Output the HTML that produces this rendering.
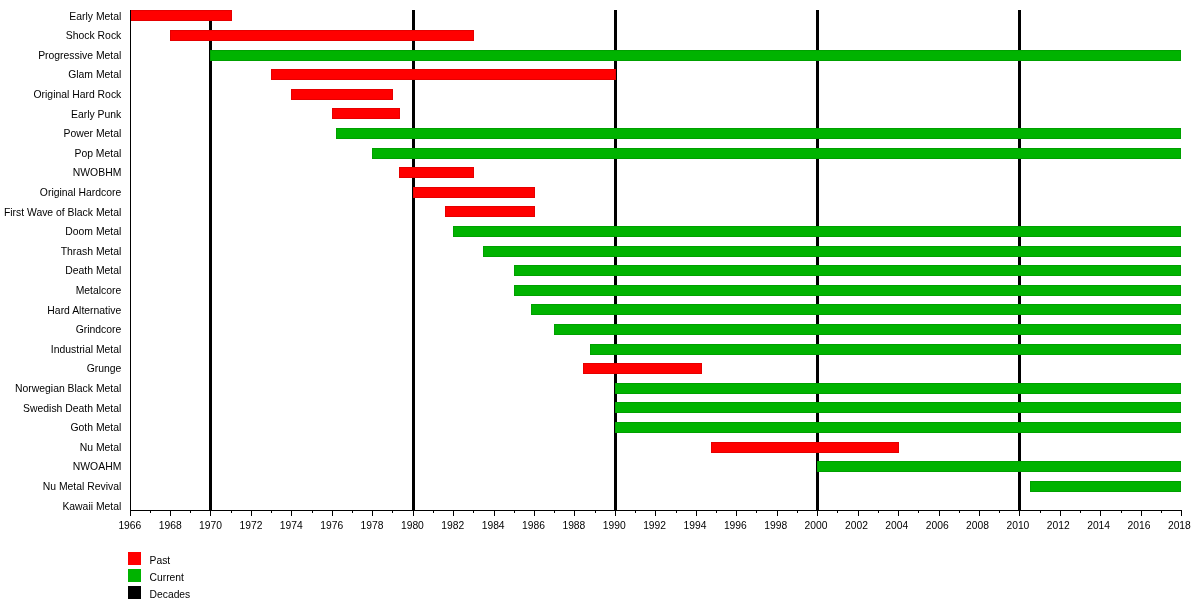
<!DOCTYPE html><html><head><meta charset="utf-8"><title>Heavy metal genres timeline</title><style>html,body{margin:0;padding:0;background:#fff;}svg{display:block;}svg text{font-family:"Liberation Sans",Arial,Helvetica,sans-serif;fill:#000;}.t{filter:grayscale(1);}</style></head><body>
<svg width="1200" height="610" viewBox="0 0 1200 610" shape-rendering="crispEdges">
<rect width="1200" height="610" fill="#fff"/>
<rect x="209" y="10" width="3" height="500" fill="#000"/>
<rect x="412" y="10" width="3" height="500" fill="#000"/>
<rect x="614" y="10" width="3" height="500" fill="#000"/>
<rect x="816" y="10" width="3" height="500" fill="#000"/>
<rect x="1018" y="10" width="3" height="500" fill="#000"/>
<rect x="130" y="10" width="102" height="11" fill="#ff0000"/>
<rect x="130.5" y="10.5" width="101" height="10" fill="none" stroke="#000" stroke-opacity="0.1" stroke-width="1"/>
<rect x="170" y="30" width="304" height="11" fill="#ff0000"/>
<rect x="170.5" y="30.5" width="303" height="10" fill="none" stroke="#000" stroke-opacity="0.1" stroke-width="1"/>
<rect x="210" y="50" width="971" height="11" fill="#00b300"/>
<rect x="210.5" y="50.5" width="970" height="10" fill="none" stroke="#000" stroke-opacity="0.1" stroke-width="1"/>
<rect x="271" y="69" width="345" height="11" fill="#ff0000"/>
<rect x="271.5" y="69.5" width="344" height="10" fill="none" stroke="#000" stroke-opacity="0.1" stroke-width="1"/>
<rect x="291" y="89" width="102" height="11" fill="#ff0000"/>
<rect x="291.5" y="89.5" width="101" height="10" fill="none" stroke="#000" stroke-opacity="0.1" stroke-width="1"/>
<rect x="332" y="108" width="68" height="11" fill="#ff0000"/>
<rect x="332.5" y="108.5" width="67" height="10" fill="none" stroke="#000" stroke-opacity="0.1" stroke-width="1"/>
<rect x="336" y="128" width="845" height="11" fill="#00b300"/>
<rect x="336.5" y="128.5" width="844" height="10" fill="none" stroke="#000" stroke-opacity="0.1" stroke-width="1"/>
<rect x="372" y="148" width="809" height="11" fill="#00b300"/>
<rect x="372.5" y="148.5" width="808" height="10" fill="none" stroke="#000" stroke-opacity="0.1" stroke-width="1"/>
<rect x="399" y="167" width="75" height="11" fill="#ff0000"/>
<rect x="399.5" y="167.5" width="74" height="10" fill="none" stroke="#000" stroke-opacity="0.1" stroke-width="1"/>
<rect x="413" y="187" width="122" height="11" fill="#ff0000"/>
<rect x="413.5" y="187.5" width="121" height="10" fill="none" stroke="#000" stroke-opacity="0.1" stroke-width="1"/>
<rect x="445" y="206" width="90" height="11" fill="#ff0000"/>
<rect x="445.5" y="206.5" width="89" height="10" fill="none" stroke="#000" stroke-opacity="0.1" stroke-width="1"/>
<rect x="453" y="226" width="728" height="11" fill="#00b300"/>
<rect x="453.5" y="226.5" width="727" height="10" fill="none" stroke="#000" stroke-opacity="0.1" stroke-width="1"/>
<rect x="483" y="246" width="698" height="11" fill="#00b300"/>
<rect x="483.5" y="246.5" width="697" height="10" fill="none" stroke="#000" stroke-opacity="0.1" stroke-width="1"/>
<rect x="514" y="265" width="667" height="11" fill="#00b300"/>
<rect x="514.5" y="265.5" width="666" height="10" fill="none" stroke="#000" stroke-opacity="0.1" stroke-width="1"/>
<rect x="514" y="285" width="667" height="11" fill="#00b300"/>
<rect x="514.5" y="285.5" width="666" height="10" fill="none" stroke="#000" stroke-opacity="0.1" stroke-width="1"/>
<rect x="531" y="304" width="650" height="11" fill="#00b300"/>
<rect x="531.5" y="304.5" width="649" height="10" fill="none" stroke="#000" stroke-opacity="0.1" stroke-width="1"/>
<rect x="554" y="324" width="627" height="11" fill="#00b300"/>
<rect x="554.5" y="324.5" width="626" height="10" fill="none" stroke="#000" stroke-opacity="0.1" stroke-width="1"/>
<rect x="590" y="344" width="591" height="11" fill="#00b300"/>
<rect x="590.5" y="344.5" width="590" height="10" fill="none" stroke="#000" stroke-opacity="0.1" stroke-width="1"/>
<rect x="583" y="363" width="119" height="11" fill="#ff0000"/>
<rect x="583.5" y="363.5" width="118" height="10" fill="none" stroke="#000" stroke-opacity="0.1" stroke-width="1"/>
<rect x="615" y="383" width="566" height="11" fill="#00b300"/>
<rect x="615.5" y="383.5" width="565" height="10" fill="none" stroke="#000" stroke-opacity="0.1" stroke-width="1"/>
<rect x="615" y="402" width="566" height="11" fill="#00b300"/>
<rect x="615.5" y="402.5" width="565" height="10" fill="none" stroke="#000" stroke-opacity="0.1" stroke-width="1"/>
<rect x="615" y="422" width="566" height="11" fill="#00b300"/>
<rect x="615.5" y="422.5" width="565" height="10" fill="none" stroke="#000" stroke-opacity="0.1" stroke-width="1"/>
<rect x="711" y="442" width="188" height="11" fill="#ff0000"/>
<rect x="711.5" y="442.5" width="187" height="10" fill="none" stroke="#000" stroke-opacity="0.1" stroke-width="1"/>
<rect x="817" y="461" width="364" height="11" fill="#00b300"/>
<rect x="817.5" y="461.5" width="363" height="10" fill="none" stroke="#000" stroke-opacity="0.1" stroke-width="1"/>
<rect x="1030" y="481" width="151" height="11" fill="#00b300"/>
<rect x="1030.5" y="481.5" width="150" height="10" fill="none" stroke="#000" stroke-opacity="0.1" stroke-width="1"/>
<rect x="130" y="10" width="1" height="501" fill="#000"/>
<rect x="130" y="510" width="1052" height="1" fill="#000"/>
<rect x="130" y="510" width="1" height="6" fill="#000"/>
<rect x="150" y="510" width="1" height="3" fill="#000"/>
<rect x="170" y="510" width="1" height="6" fill="#000"/>
<rect x="190" y="510" width="1" height="3" fill="#000"/>
<rect x="210" y="510" width="1" height="6" fill="#000"/>
<rect x="231" y="510" width="1" height="3" fill="#000"/>
<rect x="251" y="510" width="1" height="6" fill="#000"/>
<rect x="271" y="510" width="1" height="3" fill="#000"/>
<rect x="291" y="510" width="1" height="6" fill="#000"/>
<rect x="312" y="510" width="1" height="3" fill="#000"/>
<rect x="332" y="510" width="1" height="6" fill="#000"/>
<rect x="352" y="510" width="1" height="3" fill="#000"/>
<rect x="372" y="510" width="1" height="6" fill="#000"/>
<rect x="392" y="510" width="1" height="3" fill="#000"/>
<rect x="413" y="510" width="1" height="6" fill="#000"/>
<rect x="433" y="510" width="1" height="3" fill="#000"/>
<rect x="453" y="510" width="1" height="6" fill="#000"/>
<rect x="473" y="510" width="1" height="3" fill="#000"/>
<rect x="494" y="510" width="1" height="6" fill="#000"/>
<rect x="514" y="510" width="1" height="3" fill="#000"/>
<rect x="534" y="510" width="1" height="6" fill="#000"/>
<rect x="554" y="510" width="1" height="3" fill="#000"/>
<rect x="574" y="510" width="1" height="6" fill="#000"/>
<rect x="595" y="510" width="1" height="3" fill="#000"/>
<rect x="615" y="510" width="1" height="6" fill="#000"/>
<rect x="635" y="510" width="1" height="3" fill="#000"/>
<rect x="655" y="510" width="1" height="6" fill="#000"/>
<rect x="676" y="510" width="1" height="3" fill="#000"/>
<rect x="696" y="510" width="1" height="6" fill="#000"/>
<rect x="716" y="510" width="1" height="3" fill="#000"/>
<rect x="736" y="510" width="1" height="6" fill="#000"/>
<rect x="756" y="510" width="1" height="3" fill="#000"/>
<rect x="777" y="510" width="1" height="6" fill="#000"/>
<rect x="797" y="510" width="1" height="3" fill="#000"/>
<rect x="817" y="510" width="1" height="6" fill="#000"/>
<rect x="837" y="510" width="1" height="3" fill="#000"/>
<rect x="858" y="510" width="1" height="6" fill="#000"/>
<rect x="878" y="510" width="1" height="3" fill="#000"/>
<rect x="898" y="510" width="1" height="6" fill="#000"/>
<rect x="918" y="510" width="1" height="3" fill="#000"/>
<rect x="939" y="510" width="1" height="6" fill="#000"/>
<rect x="959" y="510" width="1" height="3" fill="#000"/>
<rect x="979" y="510" width="1" height="6" fill="#000"/>
<rect x="999" y="510" width="1" height="3" fill="#000"/>
<rect x="1019" y="510" width="1" height="6" fill="#000"/>
<rect x="1040" y="510" width="1" height="3" fill="#000"/>
<rect x="1060" y="510" width="1" height="6" fill="#000"/>
<rect x="1080" y="510" width="1" height="3" fill="#000"/>
<rect x="1100" y="510" width="1" height="6" fill="#000"/>
<rect x="1121" y="510" width="1" height="3" fill="#000"/>
<rect x="1141" y="510" width="1" height="6" fill="#000"/>
<rect x="1161" y="510" width="1" height="3" fill="#000"/>
<rect x="1181" y="510" width="1" height="6" fill="#000"/>
<g class="t">
<text x="129.85" y="529" font-size="10.3" text-anchor="middle">1966</text>
<text x="170.22" y="529" font-size="10.3" text-anchor="middle">1968</text>
<text x="210.58" y="529" font-size="10.3" text-anchor="middle">1970</text>
<text x="250.95" y="529" font-size="10.3" text-anchor="middle">1972</text>
<text x="291.31" y="529" font-size="10.3" text-anchor="middle">1974</text>
<text x="331.68" y="529" font-size="10.3" text-anchor="middle">1976</text>
<text x="372.05" y="529" font-size="10.3" text-anchor="middle">1978</text>
<text x="412.41" y="529" font-size="10.3" text-anchor="middle">1980</text>
<text x="452.78" y="529" font-size="10.3" text-anchor="middle">1982</text>
<text x="493.14" y="529" font-size="10.3" text-anchor="middle">1984</text>
<text x="533.51" y="529" font-size="10.3" text-anchor="middle">1986</text>
<text x="573.88" y="529" font-size="10.3" text-anchor="middle">1988</text>
<text x="614.24" y="529" font-size="10.3" text-anchor="middle">1990</text>
<text x="654.61" y="529" font-size="10.3" text-anchor="middle">1992</text>
<text x="694.97" y="529" font-size="10.3" text-anchor="middle">1994</text>
<text x="735.34" y="529" font-size="10.3" text-anchor="middle">1996</text>
<text x="775.71" y="529" font-size="10.3" text-anchor="middle">1998</text>
<text x="816.07" y="529" font-size="10.3" text-anchor="middle">2000</text>
<text x="856.44" y="529" font-size="10.3" text-anchor="middle">2002</text>
<text x="896.80" y="529" font-size="10.3" text-anchor="middle">2004</text>
<text x="937.17" y="529" font-size="10.3" text-anchor="middle">2006</text>
<text x="977.54" y="529" font-size="10.3" text-anchor="middle">2008</text>
<text x="1017.90" y="529" font-size="10.3" text-anchor="middle">2010</text>
<text x="1058.27" y="529" font-size="10.3" text-anchor="middle">2012</text>
<text x="1098.63" y="529" font-size="10.3" text-anchor="middle">2014</text>
<text x="1139.00" y="529" font-size="10.3" text-anchor="middle">2016</text>
<text x="1179.37" y="529" font-size="10.3" text-anchor="middle">2018</text>
<text x="121.3" y="20.0" font-size="10.4" text-anchor="end">Early Metal</text>
<text x="121.3" y="39.0" font-size="10.4" text-anchor="end">Shock Rock</text>
<text x="121.3" y="59.0" font-size="10.4" text-anchor="end">Progressive Metal</text>
<text x="121.3" y="78.0" font-size="10.4" text-anchor="end">Glam Metal</text>
<text x="121.3" y="98.0" font-size="10.4" text-anchor="end">Original Hard Rock</text>
<text x="121.3" y="118.0" font-size="10.4" text-anchor="end">Early Punk</text>
<text x="121.3" y="137.0" font-size="10.4" text-anchor="end">Power Metal</text>
<text x="121.3" y="157.0" font-size="10.4" text-anchor="end">Pop Metal</text>
<text x="121.3" y="176.0" font-size="10.4" text-anchor="end">NWOBHM</text>
<text x="121.3" y="196.0" font-size="10.4" text-anchor="end">Original Hardcore</text>
<text x="121.3" y="216.0" font-size="10.4" text-anchor="end">First Wave of Black Metal</text>
<text x="121.3" y="235.0" font-size="10.4" text-anchor="end">Doom Metal</text>
<text x="121.3" y="255.0" font-size="10.4" text-anchor="end">Thrash Metal</text>
<text x="121.3" y="274.0" font-size="10.4" text-anchor="end">Death Metal</text>
<text x="121.3" y="294.0" font-size="10.4" text-anchor="end">Metalcore</text>
<text x="121.3" y="314.0" font-size="10.4" text-anchor="end">Hard Alternative</text>
<text x="121.3" y="333.0" font-size="10.4" text-anchor="end">Grindcore</text>
<text x="121.3" y="353.0" font-size="10.4" text-anchor="end">Industrial Metal</text>
<text x="121.3" y="372.0" font-size="10.4" text-anchor="end">Grunge</text>
<text x="121.3" y="392.0" font-size="10.4" text-anchor="end">Norwegian Black Metal</text>
<text x="121.3" y="412.0" font-size="10.4" text-anchor="end">Swedish Death Metal</text>
<text x="121.3" y="431.0" font-size="10.4" text-anchor="end">Goth Metal</text>
<text x="121.3" y="451.0" font-size="10.4" text-anchor="end">Nu Metal</text>
<text x="121.3" y="470.0" font-size="10.4" text-anchor="end">NWOAHM</text>
<text x="121.3" y="490.0" font-size="10.4" text-anchor="end">Nu Metal Revival</text>
<text x="121.3" y="510.0" font-size="10.4" text-anchor="end">Kawaii Metal</text>
<text x="149.6" y="563.6" font-size="10.3">Past</text>
<text x="149.6" y="580.6" font-size="10.3">Current</text>
<text x="149.6" y="597.6" font-size="10.3">Decades</text>
</g>
<rect x="128" y="552" width="13" height="13" fill="#ff0000"/>
<rect x="128" y="569" width="13" height="13" fill="#00b300"/>
<rect x="128" y="586" width="13" height="13" fill="#000"/>
</svg></body></html>
